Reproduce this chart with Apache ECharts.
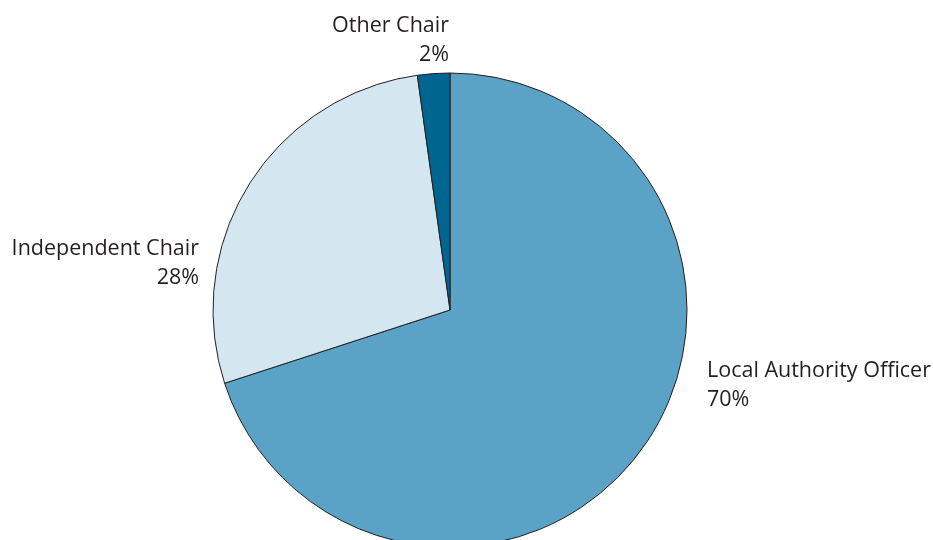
<!DOCTYPE html>
<html><head><meta charset="utf-8">
<script src="https://cdn.jsdelivr.net/npm/echarts@6/dist/echarts.min.js"></script>
<style>html,body{margin:0;padding:0;background:#fff}#c{width:933px;height:540px}</style>
</head><body><div id="c"></div>
<script>
const categories = ['Local Authority Officer', 'Independent Chair', 'Other Chair'];
const values = [70, 27.8, 2.2];
const percentLabels = ['70%', '28%', '2%'];
const colors = ['#5ba3c6', '#d4e6f0', '#006690'];

// label anchor positions (px) and alignments
const labelPos = [
  { x: 707, y: 356, align: 'left' },
  { x: 199, y: 234, align: 'right' },
  { x: 449, y: 11, align: 'right' }
];

const chart = echarts.init(document.getElementById('c'));
chart.setOption({
  animation: false,
  series: [{
    type: 'pie',
    center: [450, 310],
    radius: 237,
    startAngle: 90,
    clockwise: true,
    data: categories.map((n, i) => ({ name: n, value: values[i], itemStyle: { color: colors[i] } })),
    itemStyle: { borderColor: '#231f20', borderWidth: 1 },
    label: {
      show: true,
      position: 'outside',
      formatter: p => p.name + '\n' + percentLabels[p.dataIndex],
      fontFamily: 'Open Sans',
      fontSize: 21.5,
      lineHeight: 29,
      color: '#231f20'
    },
    labelLine: { show: false },
    labelLayout: p => ({ x: labelPos[p.dataIndex].x, y: labelPos[p.dataIndex].y, align: labelPos[p.dataIndex].align, verticalAlign: 'top' }),
    emphasis: { disabled: true }
  }]
});
</script></body></html>
